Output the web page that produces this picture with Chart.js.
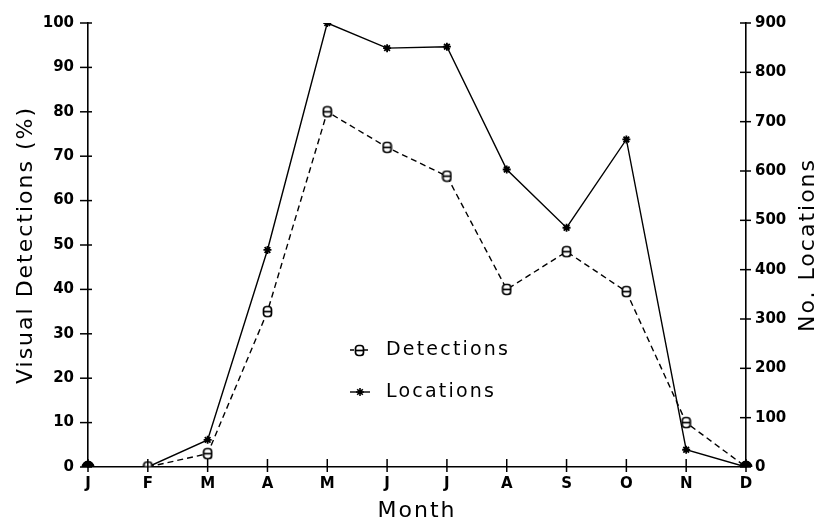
<!DOCTYPE html>
<html>
<head>
<meta charset="utf-8">
<script src="https://cdn.jsdelivr.net/npm/chart.js@4/dist/chart.umd.min.js"></script>
<style>
  html, body { margin: 0; padding: 0; background: #fff; }
  #c { display: block; }
</style>
</head>
<body>
<canvas id="c" width="818" height="523"></canvas>
<script>
// ---- data ----
const months = ['J', 'F', 'M', 'A', 'M', 'J', 'J', 'A', 'S', 'O', 'N', 'D'];
const detections = [0, 0, 3, 35, 80, 72, 65.5, 40, 48.5, 39.5, 10, 0];   // Visual Detections (%)
const locations = [0, 0, 55, 440, 900, 849, 852, 603, 485, 664, 35, 0];  // No. Locations
const leftTicks = { min: 0, max: 100, step: 10 };
const rightTicks = { min: 0, max: 900, step: 100 };
const seriesNames = ['Detections', 'Locations'];
const axisTitles = { left: 'Visual Detections (%)', right: 'No. Locations', x: 'Month' };

// ---- styling helpers ----
const INK = '#000';
function makeDetMarker() {
  const cv = document.createElement('canvas');
  cv.width = 11; cv.height = 13;
  const g = cv.getContext('2d');
  g.fillStyle = '#fff';
  g.strokeStyle = INK;
  g.lineWidth = 1.7;
  g.beginPath();
  g.roundRect(1.5, 1.5, 8, 10, 3);
  g.fill();
  g.stroke();
  g.beginPath();
  g.moveTo(1.5, 6.5); g.lineTo(9.5, 6.5);
  g.stroke();
  return cv;
}
const detMarker = makeDetMarker();
const isEnd = (ctx) => ctx.dataIndex === 0 || ctx.dataIndex === months.length - 1;

const decor = {
  id: 'decor',
  afterDraw(chart) {
    const { ctx, chartArea } = chart;
    const sx = chart.scales.x, sy = chart.scales.y, sy2 = chart.scales.y2;
    ctx.save();
    ctx.strokeStyle = INK;
    ctx.lineWidth = 1.5;
    // tick marks crossing axes
    sy.ticks.forEach((t, i) => {
      const y = sy.getPixelForTick(i);
      ctx.beginPath(); ctx.moveTo(chartArea.left - 8, y); ctx.lineTo(chartArea.left + 4, y); ctx.stroke();
    });
    sy2.ticks.forEach((t, i) => {
      const y = sy2.getPixelForTick(i);
      ctx.beginPath(); ctx.moveTo(chartArea.right - 6, y); ctx.lineTo(chartArea.right + 5, y); ctx.stroke();
    });
    sx.ticks.forEach((t, i) => {
      const x = sx.getPixelForTick(i);
      ctx.beginPath(); ctx.moveTo(x, chartArea.bottom - 8); ctx.lineTo(x, chartArea.bottom + 5); ctx.stroke();
    });

    // axis titles
    ctx.fillStyle = INK;
    ctx.font = '22px "DejaVu Sans"';
    ctx.letterSpacing = '2px';
    ctx.textAlign = 'center';
    ctx.textBaseline = 'middle';
    const cy = (chartArea.top + chartArea.bottom) / 2;
    ctx.save();
    ctx.translate(26, cy);
    ctx.rotate(-Math.PI / 2);
    ctx.fillText(axisTitles.left, 0, 0);
    ctx.restore();
    ctx.save();
    ctx.translate(808, cy);
    ctx.rotate(-Math.PI / 2);
    ctx.fillText(axisTitles.right, 0, 0);
    ctx.restore();
    ctx.fillText(axisTitles.x, (chartArea.left + chartArea.right) / 2, 511);

    // legend inside plot
    const lx = 350, ly1 = 350, ly2 = 392;
    ctx.lineWidth = 1.4;
    ctx.setLineDash([4, 3]);
    ctx.beginPath(); ctx.moveTo(lx, ly1); ctx.lineTo(lx + 18, ly1); ctx.stroke();
    ctx.setLineDash([]);
    ctx.drawImage(detMarker, lx + 4, ly1 - 6);
    ctx.beginPath(); ctx.moveTo(lx, ly2); ctx.lineTo(lx + 20, ly2); ctx.stroke();
    // star sample
    const sxp = lx + 10, r = 4;
    ctx.lineWidth = 1.6;
    ctx.beginPath();
    ctx.moveTo(sxp - r, ly2); ctx.lineTo(sxp + r, ly2);
    ctx.moveTo(sxp, ly2 - r); ctx.lineTo(sxp, ly2 + r);
    ctx.moveTo(sxp - r * 0.7, ly2 - r * 0.7); ctx.lineTo(sxp + r * 0.7, ly2 + r * 0.7);
    ctx.moveTo(sxp - r * 0.7, ly2 + r * 0.7); ctx.lineTo(sxp + r * 0.7, ly2 - r * 0.7);
    ctx.stroke();
    ctx.font = '19px "DejaVu Sans"';
    ctx.letterSpacing = '2.2px';
    ctx.textAlign = 'left';
    ctx.fillText(seriesNames[0], 386, ly1);
    ctx.fillText(seriesNames[1], 386, ly2);
    ctx.restore();
  }
};

const tickFont = { family: 'DejaVu Sans', size: 15, weight: 'bold' };

new Chart(document.getElementById('c'), {
  type: 'line',
  data: {
    labels: months,
    datasets: [
      {
        label: seriesNames[0],
        data: detections,
        yAxisID: 'y',
        borderColor: INK,
        borderWidth: 1.4,
        borderDash: [6, 4],
        tension: 0,
        pointStyle: (ctx) => isEnd(ctx) ? 'circle' : detMarker,
        pointRadius: (ctx) => isEnd(ctx) ? 5.5 : 5,
        pointBackgroundColor: INK,
        pointBorderColor: INK,
        pointBorderWidth: 1
      },
      {
        label: seriesNames[1],
        data: locations,
        yAxisID: 'y2',
        borderColor: INK,
        borderWidth: 1.4,
        tension: 0,
        pointStyle: (ctx) => isEnd(ctx) ? 'circle' : 'star',
        pointRadius: (ctx) => isEnd(ctx) ? 5.5 : 4,
        pointBackgroundColor: INK,
        pointBorderColor: INK,
        pointBorderWidth: 1.8
      }
    ]
  },
  options: {
    responsive: false,
    animation: false,
    events: [],
    layout: { padding: { top: 17, left: 0, right: 0, bottom: 0 } },
    plugins: { legend: { display: false }, tooltip: { enabled: false } },
    scales: {
      x: {
        type: 'category',
        offset: false,
        grid: { display: false, drawTicks: false },
        border: { display: true, color: INK, width: 1.6 },
        ticks: { color: INK, font: tickFont, padding: 8, maxRotation: 0, autoSkip: false },
        afterFit: (s) => { s.height = 56; }
      },
      y: {
        position: 'left',
        min: leftTicks.min, max: leftTicks.max,
        grid: { display: false, drawTicks: false },
        border: { display: true, color: INK, width: 1.6 },
        ticks: { stepSize: leftTicks.step, color: INK, font: tickFont, padding: 14 },
        afterFit: (s) => { s.width = 88; }
      },
      y2: {
        position: 'right',
        min: rightTicks.min, max: rightTicks.max,
        grid: { display: false, drawTicks: false },
        border: { display: true, color: INK, width: 1.6 },
        ticks: { stepSize: rightTicks.step, color: INK, font: tickFont, padding: 9 },
        afterFit: (s) => { s.width = 72; }
      }
    }
  },
  plugins: [decor]
});
</script>
</body>
</html>
